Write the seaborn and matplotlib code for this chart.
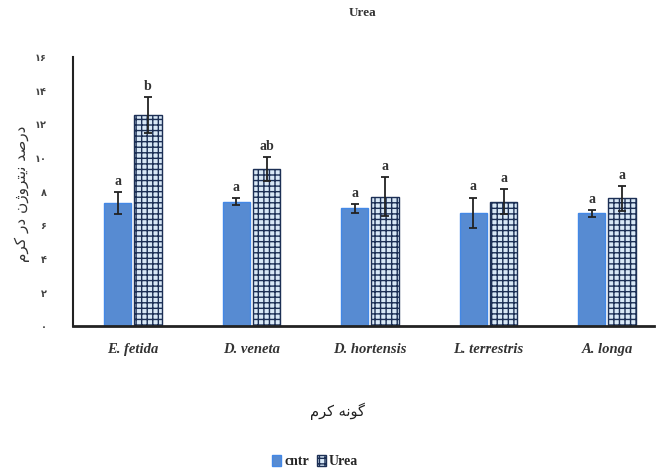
import pandas as pd
import seaborn as sns
import matplotlib.pyplot as plt

# data
species = ["E. fetida", "D. veneta", "D. hortensis", "L. terrestris", "A. longa"]
groups = ["cntr", "Urea"]
cntr_mean = [7.3, 7.4, 7.0, 6.75, 6.7]
cntr_err = [0.65, 0.2, 0.25, 0.9, 0.2]
urea_mean = [12.55, 9.35, 7.7, 7.4, 7.6]
urea_err = [1.05, 0.7, 1.15, 0.75, 0.75]
cntr_letters = ["a", "a", "a", "a", "a"]
urea_letters = ["b", "ab", "a", "a", "a"]
ytick_vals = [0, 2, 4, 6, 8, 10, 12, 14, 16]
ytick_labels = ["۰", "۲", "۴", "۶", "۸", "۱۰", "۱۲", "۱۴", "۱۶"]

# Persian labels in presentation forms, visual order (matplotlib has no shaping)
ylabel_fa = "\uFEE1\uFEAE\uFB90 \uFEAD\uFEA9 \uFEE5\uFB8A\uFEED\uFEAE\uFE98\uFBFE\uFEE7 \uFEAA\uFEBB\uFEAD\uFEA9"
xlabel_fa = "\uFEE1\uFEAE\uFB90 \uFEEA\uFEE7\uFEEE\uFB94"

df = pd.DataFrame({
    "species": species * 2,
    "group": ["cntr"] * len(species) + ["Urea"] * len(species),
    "value": cntr_mean + urea_mean,
})

sns.set_style("white")
plt.rcParams["font.family"] = ["DejaVu Sans"]

fig = plt.figure(figsize=(6.57, 4.72), dpi=100)
ax = fig.add_axes([0.111, 0.309, 0.885, 0.57])

sns.barplot(data=df, x="species", y="value", hue="group", hue_order=groups,
            palette={"cntr": "#4388E6", "Urea": "#D3E9FB"},
            width=0.51, gap=0.1, errorbar=None, legend=False, ax=ax)

# hatch the Urea bars
for bar in ax.containers[1]:
    bar.set_hatch("+++")
    bar.set_edgecolor("#1C2F55")
    bar.set_linewidth(1.0)
for bar in ax.containers[0]:
    bar.set_edgecolor("#4388E6")

# error bars and letters
for cont, means, errs, letters in [(ax.containers[0], cntr_mean, cntr_err, cntr_letters),
                                  (ax.containers[1], urea_mean, urea_err, urea_letters)]:
    xs = [b.get_x() + b.get_width() / 2 for b in cont]
    ax.errorbar(xs, means, yerr=errs, fmt="none", ecolor="#222222",
                elinewidth=1.3, capsize=3, capthick=1.3, zorder=5)
    for x, m, e, t in zip(xs, means, errs, letters):
        ax.text(x, m + e + 0.25, t, ha="center", va="bottom", fontsize=10,
                fontweight="bold", color="#333333", family="Liberation Serif")

ax.set_ylim(0, 16)
ax.set_yticks(ytick_vals)
ax.set_yticklabels(ytick_labels, fontsize=7, fontweight="bold", color="#444444")
ax.set_xticks(range(len(species)))
ax.set_xticklabels(species, fontsize=10.5, fontweight="bold", style="italic",
                   family="Liberation Serif", color="#333333")
ax.tick_params(axis="y", direction="in", length=3, width=1.2, pad=19)
ax.tick_params(axis="x", length=0, pad=12)
ax.set_xlim(-0.506, 4.4)

for s in ["top", "right"]:
    ax.spines[s].set_visible(False)
ax.spines["left"].set_linewidth(1.5)
ax.spines["bottom"].set_linewidth(2)
ax.spines["left"].set_color("#222222")
ax.spines["bottom"].set_color("#222222")

ax.set_xlabel("")
ax.set_ylabel("")
fig.text(0.034, 0.59, ylabel_fa, rotation=90, ha="center", va="center",
         fontsize=11, color="#333333")
fig.text(0.513, 0.128, xlabel_fa, ha="center", va="center",
         fontsize=10.5, color="#222222")
fig.text(0.552, 0.972, "Urea", ha="center", va="center", fontsize=9.5,
         fontweight="bold", color="#333333", family="Liberation Serif")

handles = [ax.containers[0][0], ax.containers[1][0]]
leg = fig.legend(handles, groups, loc="center", bbox_to_anchor=(0.48, 0.022), ncol=2,
                 frameon=False, handlelength=0.6, handleheight=0.9, handletextpad=0.25,
                 columnspacing=0.6, prop={"family": "Liberation Serif", "size": 10, "weight": "bold"})

fig.savefig("out.png", dpi=100)
